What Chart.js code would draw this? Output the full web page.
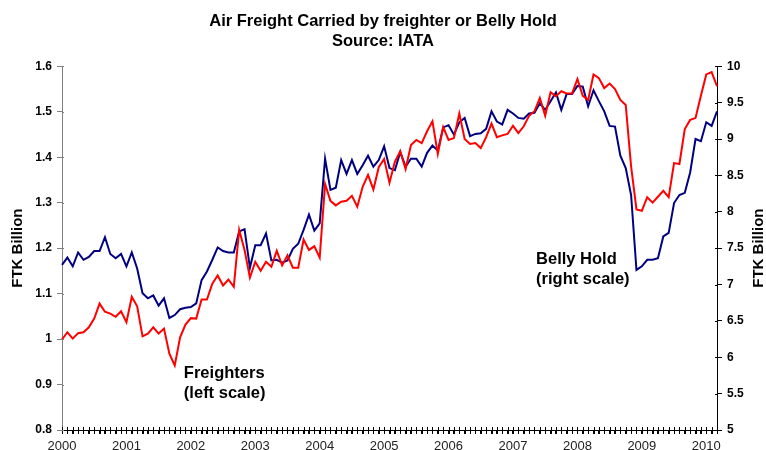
<!DOCTYPE html>
<html>
<head>
<meta charset="utf-8">
<script src="https://cdn.jsdelivr.net/npm/chart.js@4/dist/chart.umd.min.js"></script>
<style>
  html, body { margin: 0; padding: 0; background: #fff; }
  canvas { display: block; }
</style>
</head>
<body>
<canvas id="chart" width="766" height="450"></canvas>
<script>
// years shown on the x axis, data is monthly Jan 2000 .. Mar 2010
const years = [2000, 2001, 2002, 2003, 2004, 2005, 2006, 2007, 2008, 2009, 2010];
const monthsIn2010 = 3;

// Freighters, FTK billion (left scale)
const freighters = [
  0.999, 1.015, 1.001, 1.013, 1.015, 1.026, 1.045, 1.078, 1.060, 1.056, 1.049, 1.061,
  1.037, 1.093, 1.072, 1.006, 1.012, 1.026, 1.012, 1.023, 0.968, 0.942, 1.004, 1.032,
  1.046, 1.045, 1.087, 1.087, 1.122, 1.140, 1.118, 1.131, 1.115, 1.240, 1.196, 1.135,
  1.170, 1.150, 1.170, 1.159, 1.194, 1.162, 1.184, 1.157, 1.157, 1.219, 1.196, 1.204,
  1.179, 1.341, 1.304, 1.294, 1.302, 1.304, 1.315, 1.291, 1.335, 1.361, 1.329, 1.378,
  1.396, 1.344, 1.390, 1.413, 1.374, 1.427, 1.438, 1.431, 1.457, 1.479, 1.407, 1.466,
  1.438, 1.442, 1.496, 1.440, 1.429, 1.431, 1.420, 1.444, 1.474, 1.444, 1.448, 1.451,
  1.469, 1.453, 1.468, 1.491, 1.501, 1.530, 1.491, 1.543, 1.534, 1.545, 1.540, 1.540,
  1.572, 1.535, 1.526, 1.582, 1.574, 1.552, 1.562, 1.550, 1.526, 1.515, 1.380, 1.285,
  1.282, 1.312, 1.300, 1.313, 1.326, 1.312, 1.387, 1.385, 1.462, 1.482, 1.486, 1.535,
  1.582, 1.587, 1.556
];

// Belly hold, FTK billion (right scale)
const bellyHold = [
  7.27, 7.37, 7.25, 7.44, 7.34, 7.38, 7.46, 7.46, 7.65, 7.42, 7.36, 7.42,
  7.25, 7.44, 7.22, 6.88, 6.81, 6.85, 6.71, 6.81, 6.54, 6.58, 6.66, 6.68,
  6.69, 6.74, 7.06, 7.18, 7.34, 7.51, 7.46, 7.44, 7.44, 7.73, 7.76, 7.23,
  7.54, 7.54, 7.70, 7.33, 7.34, 7.30, 7.33, 7.49, 7.56, 7.75, 7.96, 7.74,
  7.84, 8.73, 8.30, 8.33, 8.71, 8.52, 8.71, 8.52, 8.64, 8.77, 8.62, 8.71,
  8.90, 8.60, 8.57, 8.82, 8.62, 8.73, 8.73, 8.62, 8.81, 8.91, 8.84, 9.16,
  9.19, 9.06, 9.23, 9.29, 9.04, 9.07, 9.08, 9.14, 9.38, 9.24, 9.20, 9.40,
  9.35, 9.29, 9.28, 9.35, 9.36, 9.49, 9.40, 9.52, 9.64, 9.40, 9.62, 9.62,
  9.73, 9.72, 9.45, 9.67, 9.52, 9.38, 9.18, 9.17, 8.77, 8.60, 8.23, 7.20,
  7.25, 7.34, 7.34, 7.36, 7.66, 7.71, 8.12, 8.23, 8.26, 8.54, 9.00, 8.97,
  9.23, 9.18, 9.38
];

const labels = [];
years.forEach(y => {
  const n = y === 2010 ? monthsIn2010 : 12;
  for (let m = 1; m <= n; m++) labels.push(y + '-' + String(m).padStart(2, '0'));
});

const FONT = "'Liberation Sans', Arial, sans-serif";

// in-chart notes: [text lines, x (month index), y value, axis]
const notes = [
  { lines: ['Freighters', '(left scale)'], at: 22.7, value: 0.9146, axis: 'yL' },
  { lines: ['Belly Hold', '(right scale)'], at: 88.3, value: 7.287, axis: 'yR' }
];

const extras = {
  id: 'extras',
  afterDatasetsDraw(chart) {
    const { ctx, chartArea, scales } = chart;
    ctx.save();
    ctx.lineWidth = 1;

    // monthly tick marks crossing the x axis
    ctx.strokeStyle = '#000';
    scales.x.ticks.forEach((t, i) => {
      const px = Math.round(scales.x.getPixelForTick(i)) + 0.5;
      ctx.beginPath();
      ctx.moveTo(px, chartArea.bottom - 3);
      ctx.lineTo(px, chartArea.bottom + 4);
      ctx.stroke();
    });
    scales.yR.ticks.forEach((t, i) => {
      const py = Math.round(scales.yR.getPixelForTick(i)) + 0.5;
      ctx.beginPath();
      ctx.moveTo(chartArea.right, py);
      ctx.lineTo(chartArea.right - 2, py);
      ctx.stroke();
    });
    ctx.strokeStyle = '#808080';
    scales.yL.ticks.forEach((t, i) => {
      const py = Math.round(scales.yL.getPixelForTick(i)) + 0.5;
      ctx.beginPath();
      ctx.moveTo(chartArea.left, py);
      ctx.lineTo(chartArea.left + 2, py);
      ctx.stroke();
    });

    // axis titles, both read bottom to top
    ctx.fillStyle = '#000';
    ctx.font = 'bold 15px ' + FONT;
    ctx.textAlign = 'center';
    ctx.textBaseline = 'middle';
    const midY = (chartArea.top + chartArea.bottom) / 2;
    [18, chartArea.right + 42].forEach(x => {
      ctx.save();
      ctx.translate(x, midY);
      ctx.rotate(-Math.PI / 2);
      ctx.fillText('FTK Billion', 0, 0);
      ctx.restore();
    });

    // series notes
    ctx.font = 'bold 16.5px ' + FONT;
    ctx.textAlign = 'left';
    ctx.textBaseline = 'alphabetic';
    notes.forEach(n => {
      const x = scales.x.getPixelForValue(n.at);
      const y = scales[n.axis].getPixelForValue(n.value);
      n.lines.forEach((line, k) => ctx.fillText(line, x, y + k * 20));
    });
    ctx.restore();
  }
};

new Chart(document.getElementById('chart'), {
  type: 'line',
  data: {
    labels: labels,
    datasets: [
      {
        label: 'Freighters',
        data: freighters,
        yAxisID: 'yL',
        borderColor: '#ff0000',
        borderWidth: 2,
        pointRadius: 0,
        tension: 0
      },
      {
        label: 'Belly Hold',
        data: bellyHold,
        yAxisID: 'yR',
        borderColor: '#000080',
        borderWidth: 2,
        pointRadius: 0,
        tension: 0
      }
    ]
  },
  options: {
    responsive: false,
    animation: false,
    layout: { padding: 0 },
    plugins: {
      legend: { display: false },
      tooltip: { enabled: false },
      title: {
        display: true,
        text: ['Air Freight Carried by freighter or Belly Hold', 'Source: IATA'],
        color: '#000',
        font: { family: FONT, size: 16.5, weight: 'bold', lineHeight: 1.25 },
        padding: { top: 11, bottom: 14 }
      }
    },
    scales: {
      x: {
        type: 'category',
        offset: false,
        afterFit: s => { s.height = 20; },
        border: { display: true, color: '#000', width: 1 },
        grid: { drawOnChartArea: false, drawTicks: true, tickLength: 4, color: '#000' },
        ticks: {
          autoSkip: false,
          maxRotation: 0,
          minRotation: 0,
          padding: 5,
          color: '#222',
          font: { family: FONT, size: 13 },
          callback: function (v, i) {
            const l = labels[i];
            return l.endsWith('-01') ? l.slice(0, 4) : '';
          }
        }
      },
      yL: {
        position: 'left',
        min: 0.8,
        max: 1.6,
        afterFit: s => { s.width = 62; },
        border: { display: true, color: '#808080', width: 1 },
        grid: { drawOnChartArea: false, tickLength: 5, color: '#808080' },
        ticks: {
          stepSize: 0.1,
          padding: 5,
          color: '#000',
          font: { family: FONT, size: 12, weight: 'bold' },
          callback: v => String(+v.toFixed(1))
        }
      },
      yR: {
        position: 'right',
        min: 5,
        max: 10,
        afterFit: s => { s.width = 49; },
        border: { display: true, color: '#000', width: 1 },
        grid: { drawOnChartArea: false, tickLength: 5, color: '#000' },
        ticks: {
          stepSize: 0.5,
          padding: 5,
          color: '#000',
          font: { family: FONT, size: 12, weight: 'bold' },
          callback: v => String(+v.toFixed(1))
        }
      }
    }
  },
  plugins: [extras]
});
</script>
</body>
</html>
